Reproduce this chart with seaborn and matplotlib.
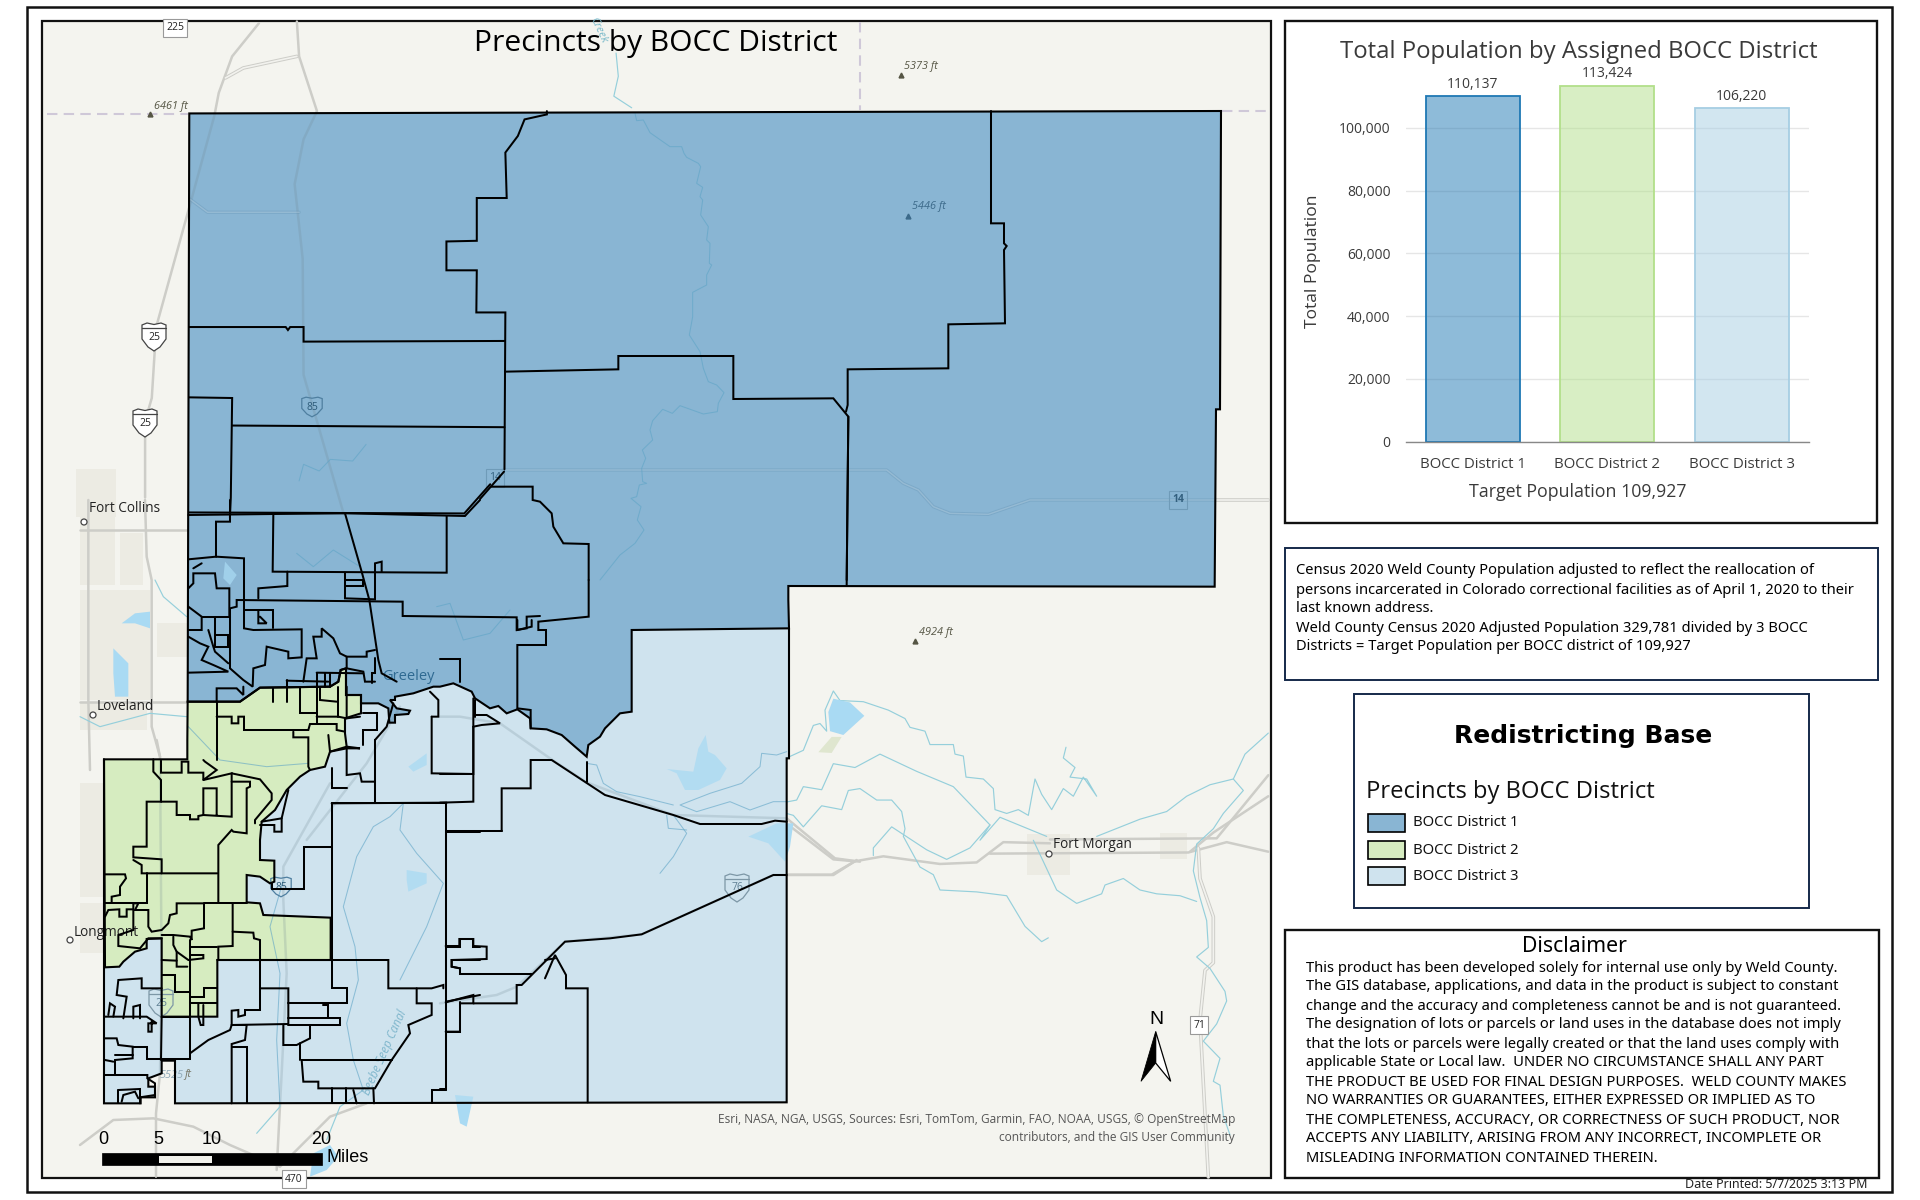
import matplotlib
matplotlib.use("Agg")
import matplotlib.pyplot as plt
from matplotlib.colors import to_rgba
from matplotlib.patches import Polygon, Rectangle, Circle
import seaborn as sns

sns.set_theme(style="white")

# bar chart data
districts = ["BOCC District 1", "BOCC District 2", "BOCC District 3"]
populations = [110137, 113424, 106220]
bar_colors = ["#1f78b4", "#b2df8a", "#a6cee3"]
y_ticks = [0, 20000, 40000, 60000, 80000, 100000]

# map fills
D1_FILL = "#89b5d3"
D2_FILL = "#d6ecc0"
D3_FILL = "#cfe3ee"
MAP_BG = "#f4f4ef"
ROAD = "#cdcdc8"
RIVER = "#95cfdb"
LAKE = "#a9daf3"

census_lines = [
    "Census 2020 Weld County Population adjusted to reflect the reallocation of",
    "persons incarcerated in Colorado correctional facilities as of April 1, 2020 to their",
    "last known address.",
    "Weld County Census 2020 Adjusted Population 329,781 divided by 3 BOCC",
    "Districts = Target Population per BOCC district of 109,927",
]
disclaimer_lines = [
    "This product has been developed solely for internal use only by Weld County.",
    "The GIS database, applications, and data in the product is subject to constant",
    "change and the accuracy and completeness cannot be and is not guaranteed.",
    "The designation of lots or parcels or land uses in the database does not imply",
    "that the lots or parcels were legally created or that the land uses comply with",
    "applicable State or Local law.  UNDER NO CIRCUMSTANCE SHALL ANY PART",
    "THE PRODUCT BE USED FOR FINAL DESIGN PURPOSES.  WELD COUNTY MAKES",
    "NO WARRANTIES OR GUARANTEES, EITHER EXPRESSED OR IMPLIED AS TO",
    "THE COMPLETENESS, ACCURACY, OR CORRECTNESS OF SUCH PRODUCT, NOR",
    "ACCEPTS ANY LIABILITY, ARISING FROM ANY INCORRECT, INCOMPLETE OR",
    "MISLEADING INFORMATION CONTAINED THEREIN.",
]


def z3(p): return [(x / 3 + 80, y / 3 + 500) for x, y in p]
def z4(p): return [(x / 3 + 80, y / 3 + 740) for x, y in p]
def z5(p): return [(x / 2.24, y / 3.015) for x, y in p]
def z6(p): return [(x / 3 + 480, y / 3 + 100) for x, y in p]
def z7(p): return [(x / 3 + 780, y / 3 + 100) for x, y in p]
def z8(p): return [(x / 3 + 440, y / 3 + 620) for x, y in p]
def z9(p): return [(x / 3 + 780, y / 2.613 + 580) for x, y in p]


d1_outline = (
    z5([(424, 342)])
    + z7([(1323, 33), (1320, 928), (1308, 928), (1304, 1460), (25, 1458), (25, 1500)])
    + z8([(1047, 25), (575, 30), (575, 275), (540, 280), (495, 325), (480, 350), (445, 375), (440, 410),
          (405, 380), (365, 345), (320, 328), (272, 325), (270, 295), (232, 268), (200, 280), (175, 258),
          (150, 265), (105, 235), (95, 215), (40, 190), (0, 200)])
    + z3([(1060, 560), (1000, 580), (945, 590), (945, 600), (930, 600), (950, 625), (990, 632), (985, 642),
          (945, 645), (945, 668), (928, 668), (925, 625), (895, 610), (843, 610), (843, 585), (798, 585),
          (798, 505), (782, 510), (775, 545), (750, 560), (540, 563), (480, 605), (323, 605)])
)
d2_outline = (
    z3([(323, 605), (480, 605), (540, 563), (750, 560), (775, 545), (782, 510), (798, 505), (798, 585),
        (843, 585), (843, 640), (795, 655), (795, 700), (800, 740), (840, 745), (800, 745), (750, 755),
        (735, 800), (690, 810), (660, 830), (620, 870), (585, 930), (545, 965), (540, 1020)])
    + z4([(540, 360), (583, 362), (583, 425), (570, 430), (540, 410), (500, 405), (500, 487), (540, 490),
          (550, 525), (752, 533), (752, 660), (412, 660), (412, 830), (245, 830), (245, 595), (200, 597),
          (200, 625), (165, 635), (130, 665), (118, 680), (75, 682), (72, 58), (322, 58), (322, 0)])
)
d3_edge = (
    z4([(72, 58), (72, 1090), (182, 1090), (182, 1072), (225, 1072), (225, 1040), (205, 1040), (205, 1015),
        (245, 1000), (245, 962), (285, 962), (285, 1090)])
    + z8([(1040, 1447), (1040, 415), (1047, 415), (1047, 25)])
)
# rest of the fill is hidden under the other two districts
d3_outline = d3_edge + z8([(575, 30), (200, 100), (0, 150)]) + z4([(330, 100)])

lines_z3 = [
    [(325, 45), (580, 42), (800, 40), (1155, 48), (1200, 0)],
    [(450, 0), (450, 65), (408, 65), (408, 170), (325, 178)],
    [(408, 170), (492, 175), (492, 385), (520, 390), (665, 388), (665, 472), (625, 475), (625, 455), (560, 440),
     (555, 495), (520, 505), (518, 560), (490, 540), (450, 505), (450, 325), (470, 320), (470, 300), (968, 305),
     (968, 348), (1310, 352), (1310, 390), (1340, 385), (1340, 350), (1380, 348)],
    [(580, 42), (578, 215), (1100, 218), (1100, 48)],
    [(795, 40), (845, 215), (868, 300), (895, 480), (905, 520), (950, 545)],
    [(622, 215), (622, 258), (535, 265), (535, 295)],
    [(795, 218), (795, 295), (885, 298), (885, 190), (905, 185), (905, 215)],
    [(795, 240), (850, 240), (850, 258), (795, 258)],
    [(325, 320), (365, 350), (365, 390), (325, 390)],
    [(365, 350), (450, 350)],
    [(405, 350), (405, 440), (445, 440), (445, 405), (405, 405)],
    [(325, 410), (360, 430), (385, 440), (365, 480), (400, 495), (445, 515), (325, 518)],
    [(385, 390), (400, 440), (405, 455), (445, 490)],
    [(325, 265), (340, 250), (340, 220), (405, 220), (410, 265), (448, 265), (448, 350)],
    [(340, 205), (365, 190)],
    [(410, 605), (410, 565), (470, 565), (490, 585), (490, 560)],
    [(495, 330), (578, 330), (578, 385)],
    [(535, 330), (535, 370), (560, 370), (540, 350)],
    [(670, 545), (680, 475), (710, 475), (700, 410), (725, 410), (725, 385), (760, 415), (780, 460), (800, 470),
     (860, 470), (860, 455), (885, 450)],
    [(885, 475), (885, 520), (875, 520), (875, 550)],
    [(800, 470), (800, 505), (850, 515), (855, 545), (885, 545)],
    [(620, 540), (620, 605)],
    [(620, 542), (745, 545)],
    [(710, 518), (850, 520)],
    [(710, 518), (710, 670)],
    [(735, 518), (735, 560)],
    [(750, 518), (750, 560)],
    [(580, 565), (580, 605)],
    [(660, 565), (660, 640), (710, 640)],
    [(720, 565), (720, 600), (770, 605)],
    [(775, 560), (775, 650)],
    [(800, 560), (800, 655), (840, 650)],
    [(410, 650), (455, 650), (455, 670), (475, 670), (475, 650), (492, 650), (492, 690), (685, 690), (690, 672),
     (770, 672), (770, 690), (795, 695)],
    [(710, 650), (775, 650), (800, 655)],
    [(640, 695), (640, 712), (685, 712), (685, 800), (690, 810)],
    [(745, 705), (750, 755), (800, 740)],
    [(410, 605), (410, 780)],
    [(885, 720), (885, 905)],
    [(755, 910), (1100, 908)],
    [(885, 845), (845, 845), (840, 820), (800, 825), (800, 745)],
    [(800, 865), (755, 865), (755, 805)],
    [(1055, 650), (1055, 820), (1180, 822), (1180, 680)],
    [(1055, 650), (1075, 650), (1075, 600), (1050, 575)],
    [(1185, 600), (1185, 650)],
    [(850, 640), (890, 640), (890, 690), (850, 690), (850, 735)],
    [(940, 610), (920, 680), (885, 720)],
]
lines_z4 = [
    [(220, 58), (220, 95), (243, 120), (243, 185), (200, 185), (200, 320), (160, 320), (160, 352), (245, 358), (245, 400)],
    [(243, 62), (243, 98), (305, 98), (305, 65), (325, 65), (325, 98), (370, 98), (370, 120), (410, 90), (375, 65), (370, 60)],
    [(370, 120), (455, 100), (455, 230), (370, 225), (370, 145), (410, 145), (410, 225)],
    [(243, 185), (290, 185), (290, 225), (330, 225), (330, 238), (355, 238), (355, 228), (370, 225)],
    [(455, 100), (540, 118), (575, 160), (575, 180), (525, 240), (525, 250)],
    [(455, 125), (510, 125), (510, 140), (500, 145), (500, 280), (460, 275), (455, 270), (415, 315), (415, 485)],
    [(160, 360), (185, 375), (185, 400), (412, 400)],
    [(200, 400), (200, 490), (75, 490)],
    [(75, 403), (135, 403), (138, 415), (120, 440), (120, 465), (95, 470), (95, 488)],
    [(160, 490), (160, 570), (115, 585), (115, 618), (180, 625), (205, 595), (245, 595)],
    [(160, 490), (175, 490), (165, 510), (205, 510), (205, 560), (215, 575), (245, 570), (265, 550), (270, 525), (290, 520),
     (290, 490), (372, 490), (372, 565), (335, 572), (335, 600), (330, 590), (280, 585), (245, 585)],
    [(75, 530), (85, 510), (118, 508), (118, 530), (140, 530), (140, 508), (160, 508)],
    [(372, 490), (500, 490)],
    [(458, 490), (458, 618), (415, 620), (415, 660)],
    [(458, 575), (520, 578), (522, 595), (540, 600), (540, 810), (495, 810), (495, 825), (475, 830), (475, 810), (455, 812), (455, 855)],
    [(330, 600), (330, 830)],
    [(280, 590), (280, 615), (290, 635), (290, 680), (322, 680)],
    [(290, 635), (325, 660), (370, 655), (370, 645), (330, 645)],
    [(245, 660), (290, 662)],
    [(245, 705), (285, 705), (285, 755), (330, 755)],
    [(330, 620), (412, 620)],
    [(330, 770), (372, 770), (372, 745), (412, 745)],
    [(330, 790), (412, 790)],
    [(355, 790), (355, 830), (362, 855), (370, 855), (370, 795)],
    [(75, 830), (200, 830), (230, 850), (205, 850), (205, 875), (215, 875), (215, 845)],
    [(100, 830), (105, 800), (90, 790), (85, 825)],
    [(245, 745), (205, 745), (185, 745), (185, 715), (115, 720), (110, 765), (140, 770), (130, 835)],
    [(160, 835), (160, 800), (180, 795), (180, 835)],
    [(75, 895), (110, 895), (115, 915), (158, 920), (158, 955), (105, 960), (105, 1005)],
    [(245, 830), (243, 960)],
    [(75, 960), (100, 965)],
    [(158, 920), (202, 920), (202, 958), (243, 958)],
    [(105, 945), (158, 945)],
    [(75, 1005), (202, 1005), (202, 1015), (225, 1030), (225, 1065), (180, 1072)],
    [(115, 1050), (180, 1047), (180, 1090)],
    [(115, 1050), (115, 1090)],
    [(125, 1085), (130, 1065), (165, 1055), (175, 1075)],
    [(245, 830), (330, 830), (330, 958), (245, 958)],
    [(330, 940), (385, 900), (450, 870), (455, 855), (625, 852), (625, 745), (540, 745)],
    [(625, 790), (800, 790), (800, 745), (755, 745), (755, 190)],
    [(625, 835), (780, 835), (780, 855), (625, 855)],
    [(730, 795), (745, 795), (745, 830)],
    [(755, 320), (672, 320), (672, 447), (575, 447), (575, 428)],
    [(625, 150), (605, 235), (605, 275), (583, 275), (583, 255), (540, 255)],
    [(605, 235), (545, 245)],
    [(885, 0), (885, 185)],
    [(755, 190), (1098, 190), (1098, 1050)],
    [(1098, 275), (1200, 275)],
    [(1098, 620), (1140, 620), (1140, 597), (1180, 597), (1180, 620), (1200, 620)],
    [(1200, 660), (1115, 660), (1115, 680), (1140, 685), (1140, 702), (1200, 702)],
    [(1098, 785), (1200, 765)],
    [(1140, 785), (1140, 875), (1098, 875)],
    [(412, 660), (925, 660), (925, 745), (1055, 745), (1090, 735), (1090, 745)],
    [(1010, 745), (1010, 790), (1055, 790), (1055, 825), (985, 855), (990, 880), (935, 960), (885, 1045), (715, 1045),
     (715, 1025), (670, 1025), (665, 960), (935, 960)],
    [(660, 960), (660, 910), (690, 895), (690, 855)],
    [(610, 855), (610, 915), (650, 915), (660, 910)],
    [(455, 855), (500, 855), (495, 900), (455, 912), (455, 1090)],
    [(455, 920), (500, 920), (500, 1090)],
    [(755, 1045), (755, 1090)],
    [(798, 1045), (798, 1090)],
    [(820, 1050), (830, 1090)],
    [(880, 1045), (882, 1090)],
    [(1098, 1050), (1055, 1050), (1055, 1090)],
]
lines_z5 = [
    [(424, 986), (640, 986), (645, 995), (650, 986), (680, 986), (680, 1030), (1130, 1028)],
    [(1225, 335), (1225, 345), (1175, 360), (1160, 410), (1132, 460), (1135, 597), (1068, 597), (1068, 726), (1000, 728),
     (1000, 815), (1068, 815), (1067, 942), (1132, 942), (1130, 1415)],
    [(424, 1198), (520, 1200), (517, 1500), (515, 1560)],
    [(520, 1283), (1130, 1288)],
    [(424, 1545), (1040, 1548), (1098, 1460)],
]
lines_z6 = [
    [(0, 1197), (72, 1115)],
    [(32, 1160), (158, 1160), (158, 1200), (180, 1205), (215, 1240), (220, 1280), (250, 1330), (326, 1332), (326, 1440)],
    [(75, 815), (415, 808), (415, 768), (760, 768), (760, 897), (1060, 895), (1105, 950), (1100, 1440)],
]
lines_z7 = [
    [(633, 33), (633, 370), (672, 370), (672, 430), (680, 438), (672, 450), (675, 670), (505, 673), (505, 805), (203, 808),
     (203, 915), (198, 935)],
    [(205, 950), (200, 1455)],
]
lines_z8 = [
    [(446, -120), (446, -10), (295, 5), (295, 30), (318, 30), (318, 75), (232, 75), (232, 265), (272, 270), (272, 325)],
    [(232, 0), (232, 30), (275, 20), (275, 0)],
    [(0, 118), (60, 118), (60, 185)],
    [(100, 235), (100, 545), (0, 548)],
    [(100, 320), (125, 315), (180, 310), (140, 285), (105, 285)],
    [(0, 463), (100, 463)],
    [(185, 633), (185, 505), (272, 505), (272, 420), (335, 420), (495, 525), (700, 585), (780, 612), (965, 612), (1005, 602),
     (1040, 605)],
    [(185, 633), (17, 633), (17, 1407), (0, 1407)],
    [(17, 1147), (100, 1125), (100, 1150), (60, 1150), (60, 1235), (17, 1235)],
    [(100, 1150), (230, 1150), (230, 1095), (245, 1095), (375, 965), (510, 955), (605, 943), (1000, 765), (1040, 765)],
    [(275, 1062), (60, 1062), (60, 1045), (35, 1040), (35, 1020), (140, 1017), (140, 980), (100, 978), (100, 957), (58, 957),
     (58, 978), (17, 978)],
    [(315, 1075), (345, 1005), (378, 1065), (378, 1105), (443, 1105), (443, 1447)],
    [(315, 1020), (345, 1015)],
    [(440, 425), (440, 487)],
]

# basemap
road_lines = (
    z5([(665, 65), (670, 170), (710, 335), (680, 420), (660, 555), (678, 780), (680, 1130), (770, 1550)]),
    z5([(580, 70), (520, 170), (490, 280), (480, 350), (425, 620), (350, 985), (340, 1200), (325, 1270), (325, 1500)]),
    z3([(195, 0), (200, 170), (215, 240), (215, 680), (240, 770)]),
    z4([(230, 0), (240, 50), (245, 700), (240, 1000), (228, 1120), (228, 1310)]),
    z3([(25, 0), (25, 600), (30, 810)]),
    z3([(0, 605), (320, 605)]),
    z3([(0, 90), (320, 90)]),
    z3([(960, 620), (860, 790), (680, 1020)]),
    z4([(750, 130), (610, 380), (610, 480), (620, 700), (605, 1000), (590, 1290)]),
    z8([(0, 290), (60, 290), (180, 310), (330, 415), (440, 487), (700, 585), (1040, 595), (1185, 715), (1260, 725)]),
    z8([(0, 1150), (170, 1125), (230, 1100), (375, 965), (605, 943), (1000, 765), (1180, 765), (1250, 720)]),
    z9([(25, 640), (160, 730), (225, 735), (310, 722), (480, 742), (590, 738), (670, 685), (810, 688)]),
    z9([(25, 770), (155, 770), (225, 735)]),
    z9([(630, 715), (1225, 712), (1340, 685), (1465, 710)]),
    z9([(810, 678), (1310, 675), (1465, 510)]),
    z9([(1230, 710), (1300, 660), (1465, 565)]),
    z4([(0, 1215), (100, 1140), (220, 1135), (340, 1160), (450, 1215), (600, 1280), (750, 1130), (860, 1090)]),
)
white_roads = (
    z5([(505, 235), (545, 205), (665, 170)]),
    z5([(425, 600), (465, 640), (670, 640)]),
    z7([(-831, 1110), (320, 1110), (370, 1150), (415, 1170), (460, 1220), (510, 1240), (625, 1243), (750, 1200), (1465, 1200)]),
    z9([(1255, 700), (1260, 780), (1300, 880), (1300, 1000), (1275, 1020), (1260, 1150), (1285, 1560)]),
)
river_lines = (
    z6([(465, 40), (470, 62), (490, 60), (510, 98), (570, 140), (605, 140), (612, 160), (620, 172), (655, 190), (662, 200),
        (650, 250), (668, 262), (660, 290), (668, 300), (662, 345), (685, 380), (680, 420), (690, 430), (688, 490), (695, 495),
        (680, 525), (680, 555), (638, 577), (638, 650), (628, 705), (660, 755), (670, 805), (685, 845), (710, 855), (732, 878),
        (715, 910), (712, 935), (670, 942), (600, 917), (577, 940), (548, 928), (518, 962), (510, 990), (518, 1020), (487, 1050),
        (497, 1075), (485, 1105), (488, 1145), (500, 1150), (478, 1155), (470, 1190), (453, 1195), (483, 1220), (472, 1260),
        (492, 1290), (465, 1330), (420, 1365), (360, 1440)]),
    z9([(20, 465), (70, 445), (100, 380), (120, 375), (140, 395), (135, 340), (160, 290), (180, 315), (250, 318), (325, 340),
        (375, 362), (390, 385), (435, 395), (450, 430), (520, 430), (525, 455), (550, 460), (558, 515), (610, 520), (640, 545),
        (645, 600), (680, 610), (715, 600), (745, 615), (765, 520), (785, 560), (815, 600), (850, 545), (880, 565), (910, 515),
        (950, 565), (920, 520), (870, 515), (885, 490), (850, 465), (858, 437)]),
    z9([(20, 580), (50, 575), (70, 540), (125, 548), (160, 480), (225, 490), (300, 455), (410, 500), (520, 540), (630, 640),
        (600, 680), (660, 620), (800, 670)]),
    z9([(20, 610), (40, 615), (70, 645), (125, 590), (185, 600), (205, 550), (240, 545), (290, 575), (335, 575), (365, 605),
        (375, 650), (370, 670), (420, 750), (460, 770), (480, 810), (590, 815), (680, 825), (735, 905), (785, 945), (805, 935)]),
    z9([(280, 720), (280, 700), (335, 645), (440, 705), (500, 730), (570, 700), (630, 640)]),
    z9([(760, 680), (830, 810), (890, 845), (965, 820), (975, 797), (1030, 780), (1080, 810), (1130, 820), (1200, 825), (1250, 840)]),
    z9([(950, 670), (1080, 625), (1160, 605), (1220, 565), (1290, 535), (1360, 520), (1395, 455), (1465, 400)]),
    z9([(1360, 520), (1390, 550), (1330, 610), (1300, 650), (1250, 690), (1240, 760), (1260, 830), (1280, 890), (1285, 960),
        (1250, 985), (1290, 1015), (1335, 1075), (1340, 1100), (1310, 1160), (1270, 1205), (1320, 1250), (1300, 1310), (1320, 1320),
        (1330, 1400), (1350, 1450)]),
    z8([(1040, 545), (1000, 545), (930, 570), (870, 545), (770, 575), (720, 555), (810, 520), (905, 490), (960, 440), (965, 400),
        (1010, 405), (1040, 395)]),
    z8([(700, 555), (600, 530), (530, 515), (490, 490), (470, 435), (440, 430)]),
    z8([(700, 585), (740, 640), (700, 710), (660, 760)]),
    z8([(680, 585), (685, 625), (740, 630)]),
    z3([(225, 240), (250, 290), (320, 350)]),
    z3([(0, 650), (60, 680), (210, 640), (320, 650)]),
    z3([(650, 160), (700, 200), (760, 150), (840, 200)]),
    z3([(1070, 320), (1110, 310), (1150, 420), (1230, 400), (1290, 330)]),
    z3([(325, 680), (420, 780), (560, 800), (685, 790)]),
    z4([(970, 190), (930, 230), (880, 260), (830, 350), (790, 500), (825, 620), (835, 720), (800, 850), (820, 960), (850, 1050),
        (780, 1100), (740, 1200)]),
    z4([(970, 190), (960, 270), (1010, 340), (1090, 430), (1040, 560), (960, 720)]),
    z4([(610, 420), (570, 560), (600, 700), (590, 900), (600, 1100), (530, 1180)]),
    z5([(820, 1340), (790, 1390), (740, 1385), (715, 1420), (680, 1400), (670, 1450)]),
    z5([(1380, 160), (1385, 230), (1375, 290), (1415, 325)]),
)
lake_shapes = (
    z3([(125, 370), (165, 340), (210, 335), (210, 385), (165, 370)]),
    z3([(100, 445), (145, 490), (145, 590), (105, 590), (100, 520)]),
    z3([(435, 185), (470, 225), (450, 255), (430, 235)]),
    z3([(985, 800), (1040, 760), (1040, 795), (1000, 815)]),
    z8([(680, 447), (760, 455), (775, 385), (797, 345), (805, 395), (825, 405), (860, 445), (840, 480), (775, 510), (735, 510), (710, 460)]),
    z8([(925, 650), (1010, 610), (1060, 610), (1050, 680), (1035, 725), (985, 670)]),
    z4([(980, 390), (1040, 400), (1040, 430), (985, 455), (980, 420)]),
    z4([(1125, 1065), (1180, 1070), (1160, 1160), (1140, 1150)]),
    z4([(700, 1240), (750, 1215), (775, 1250), (740, 1290), (690, 1310)]),
    z9([(145, 345), (160, 310), (210, 320), (253, 355), (190, 405), (150, 395)]),
)
urban_shapes = (
    z3([(0, 0), (105, 0), (105, 255), (0, 255)]),
    z3([(120, 100), (190, 100), (190, 255), (120, 255)]),
    z3([(0, 270), (210, 270), (210, 600), (0, 600)]),
    z3([(230, 370), (320, 370), (320, 470), (230, 470)]),
    z3([(0, 610), (200, 610), (200, 690), (0, 690)]),
    z4([(0, 130), (70, 130), (70, 470), (0, 470)]),
    z4([(0, 490), (72, 490), (72, 640), (0, 640)]),
    z5([(170, 1415), (260, 1415), (260, 1560), (170, 1560)]),
    z9([(740, 665), (870, 665), (870, 770), (740, 770)]),
    z9([(1140, 660), (1220, 660), (1220, 730), (1140, 730)]),
)
farm_patches = (
    z9([(115, 450), (155, 410), (185, 410), (155, 452)]),
)
cities = ["Fort Collins", "Loveland", "Longmont", "Fort Morgan"]
city_label_xy = [(89, 509), (97, 706), (74, 932), (1053, 844)]
city_marker_xy = [(84, 522), (93, 715), (70, 940), (1049, 854)]
elevations = ["6461 ft", "5373 ft", "5446 ft", "4924 ft"]
elevation_label_xy = [(154, 106), (904, 66), (912, 207), (919, 632)]
elevation_marker_xy = [(150, 114), (901, 75), (908, 216), (915, 641)]
box_shields = ["225", "14", "14", "71", "470"]
box_shield_xy = [(175, 28), (495, 478), (1178, 500), (1199, 1025), (294, 1179)]
interstates = ["25", "25", "25", "76"]
interstate_xy = [(154, 337), (145, 423), (161, 1003), (737, 888)]
us_routes = ["85", "85"]
us_route_xy = [(312, 407), (281, 887)]
scale_ticks = ["0", "5", "10", "20"]
scale_tick_x = [103, 158, 212, 321]

# shield outline around its own centre, px
SHIELD = [(-12, -12), (-7, -14), (0, -12.5), (7, -14), (12, -12), (12, 2), (6, 10), (0, 14), (-6, 10), (-12, 2)]

UI = "Open Sans"
TAHOMA = "Noto Sans"

fig = plt.figure(figsize=(19.2, 12), dpi=100, facecolor="white")
ax = fig.add_axes([0, 0, 1, 1])
ax.set_xlim(0, 1920)
ax.set_ylim(1200, 0)
ax.axis("off")

# frames
ax.add_patch(Rectangle((27, 7), 1865, 1185, fc="none", ec="#111111", lw=1.8, zorder=1))
map_frame = Rectangle((42, 21), 1229, 1157, fc=MAP_BG, ec="#111111", lw=1.6, zorder=2)
ax.add_patch(map_frame)


def outline(pts, **kw):
    p = Polygon(pts, closed=True, **kw)
    ax.add_patch(p)
    p.set_clip_path(map_frame)
    return p


for u in urban_shapes:
    outline(u, fc="#ecebe3", ec="none", zorder=3)
for u in farm_patches:
    outline(u, fc="#dfe6cf", ec="none", zorder=3)

# basemap under the fills
for r in road_lines:
    ax.plot(*zip(*r), color=ROAD, lw=1.8, zorder=3.2, clip_path=map_frame)
for r in white_roads:
    ax.plot(*zip(*r), color=ROAD, lw=2.6, zorder=3.2, clip_path=map_frame)
    ax.plot(*zip(*r), color="#f2f2ee", lw=1.2, zorder=3.3, clip_path=map_frame)
for r in river_lines:
    ax.plot(*zip(*r), color=RIVER, lw=0.85, zorder=3.4, clip_path=map_frame)
for l in lake_shapes:
    outline(l, fc=LAKE, ec="none", zorder=3.5)

fill_d3 = outline(d3_outline, fc=D3_FILL, ec="none", zorder=4)
fill_d2 = outline(d2_outline, fc=D2_FILL, ec="none", zorder=5)
fill_d1 = outline(d1_outline, fc=D1_FILL, ec="none", zorder=6)

# same details again, faint and clipped to each district, so they show through the fills
for fill, z in [(fill_d3, 4.5), (fill_d2, 5.5), (fill_d1, 6.5)]:
    for r in road_lines:
        ax.plot(*zip(*r), color="#6f8791", lw=1.8, alpha=0.22, zorder=z, clip_path=fill)
    for r in white_roads:
        ax.plot(*zip(*r), color="#5f8fb0", lw=2.4, alpha=0.3, zorder=z, clip_path=fill)
        ax.plot(*zip(*r), color="#c6dcea", lw=1, alpha=0.35, zorder=z, clip_path=fill)
    for r in river_lines:
        ax.plot(*zip(*r), color="#5ea4c6", lw=0.75, alpha=0.6, zorder=z, clip_path=fill)
    for l in lake_shapes:
        lake = Polygon(l, closed=True, fc=LAKE, ec="none", alpha=0.75, zorder=z)
        ax.add_patch(lake)
        lake.set_clip_path(fill)
ax.plot([47, 188], [113.5, 113.5], color="#cfc8d8", lw=1.5, ls=(0, (5, 3)), zorder=3.2)
ax.plot([1222, 1270], [111, 111], color="#cfc8d8", lw=1.5, ls=(0, (5, 3)), zorder=3.2)
ax.plot([860, 860], [22, 110], color="#cfc8d8", lw=1.5, ls=(0, (5, 3)), zorder=3.2)

# precinct lines
for group, conv in [(lines_z3, z3), (lines_z4, z4), (lines_z5, z5), (lines_z6, z6), (lines_z7, z7), (lines_z8, z8)]:
    for ln in group:
        ax.plot(*zip(*conv(ln)), color="black", lw=1.45, zorder=9, clip_path=map_frame, solid_joinstyle="miter")
outline(d1_outline, fc="none", ec="black", lw=1.5, zorder=9, joinstyle="miter")
outline(d2_outline, fc="none", ec="black", lw=1.5, zorder=9, joinstyle="miter")
ax.plot(*zip(*d3_edge), color="black", lw=1.5, zorder=9, clip_path=map_frame, solid_joinstyle="miter")

# map labels
for name, (x, y), (mx, my) in zip(cities, city_label_xy, city_marker_xy):
    ax.text(x, y, name, family=UI, fontsize=9.8, color="#222222", ha="left", va="center", zorder=8)
    ax.add_patch(Circle((mx, my), 3, fc="white", ec="#444444", lw=0.9, zorder=8))
ax.text(382, 676, "Greeley", family=UI, fontsize=10.5, color="#2f6a92", ha="left", va="center", zorder=8)
for name, (x, y), (mx, my) in zip(elevations, elevation_label_xy, elevation_marker_xy):
    c = "#3c6a8a" if name == "5446 ft" else "#555544"
    ax.text(x, y, name, family=UI, fontsize=7.8, style="italic", color=c, ha="left", va="center", zorder=8)
    ax.plot([mx], [my], marker="^", ms=3.5, color=c, zorder=8)
ax.text(172, 1075, "5525", family=UI, fontsize=7.8, style="italic", color="#8fa9b8", ha="center", va="center", zorder=8)
ax.text(184, 1075, "ft", family=UI, fontsize=7.8, style="italic", color="#777766", ha="left", va="center", zorder=8)
ax.text(598, 30, "Creek", family=UI, fontsize=8, style="italic", color="#79b9c9", rotation=-65, ha="center", va="center",
        zorder=8, clip_path=map_frame)
ax.text(385, 1053, "Beebe Seep Canal", family=UI, fontsize=8.5, style="italic", color="#7fb6cc", rotation=66, ha="center",
        va="center", zorder=8)
for name, (x, y) in zip(box_shields, box_shield_xy):
    tinted = name == "14"
    faded = tinted and x < 1000
    ax.text(x, y, name, family=UI, fontsize=7.5, color="#33607f" if tinted else "#222222", ha="center", va="center",
            zorder=8, fontweight="bold" if tinted and not faded else "normal",
            bbox=dict(boxstyle="square,pad=0.3", fc="none" if tinted else "white",
                      ec="#6f9bb8" if tinted else "#999999", lw=0.8),
            clip_path=map_frame)
for name, (x, y) in zip(interstates, interstate_xy):
    tinted = y > 800
    ax.add_patch(Polygon([(x + dx, y + dy) for dx, dy in SHIELD], fc="none" if tinted else "white",
                         ec="#7d97a6" if tinted else "#444444", lw=0.9, zorder=8))
    ax.plot([x - 12, x + 12], [y - 9, y - 9], color="#7d97a6" if tinted else "#444444", lw=0.9, zorder=8)
    ax.text(x, y, name, family=UI, fontsize=7.5, color="#5f7f93" if tinted else "#222222", ha="center", va="center", zorder=8)
for name, (x, y) in zip(us_routes, us_route_xy):
    ax.add_patch(Polygon([(x + dx * 0.85, y + dy * 0.7) for dx, dy in SHIELD], fc="none", ec="#4f7fa0", lw=0.9, zorder=8))
    ax.text(x, y, name, family=UI, fontsize=7.5, color="#2c5a78", ha="center", va="center", zorder=8)

ax.text(656, 43, "Precincts by BOCC District", family=UI, fontsize=21.6, color="black", ha="center", va="center", zorder=10)
ax.text(1235, 1120, "Esri, NASA, NGA, USGS, Sources: Esri, TomTom, Garmin, FAO, NOAA, USGS, © OpenStreetMap", family=UI,
        fontsize=8.6, color="#555555", ha="right", va="center", zorder=10)
ax.text(1235, 1137, "contributors, and the GIS User Community", family=UI, fontsize=8.6, color="#555555", ha="right",
        va="center", zorder=10)

# scale bar
ax.add_patch(Rectangle((102, 1153), 220, 12, fc="black", ec="black", lw=0.5, zorder=10))
ax.add_patch(Rectangle((159, 1155.5), 52.5, 7, fc="#f0f0ea", ec="none", zorder=11))
for t, x in zip(scale_ticks, scale_tick_x):
    ax.text(x, 1139, t, family="Liberation Sans", fontsize=13, color="black", ha="center", va="center", zorder=10)
ax.text(327, 1158, "Miles", family="Liberation Sans", fontsize=13, color="black", ha="left", va="center", zorder=10)

# north arrow
ax.text(1156, 1019, "N", family="Liberation Sans", fontsize=14, color="black", ha="center", va="center", zorder=10)
ax.add_patch(Polygon(z9([(1127, 1180), (1083, 1310), (1127, 1262)]), fc="black", ec="black", lw=0.6, zorder=10))
ax.add_patch(Polygon(z9([(1127, 1180), (1172, 1310), (1127, 1262)]), fc="white", ec="black", lw=0.9, zorder=10))

# side boxes
ax.add_patch(Rectangle((1285, 21), 592, 502, fc="white", ec="#111111", lw=1.7, zorder=1))
ax.add_patch(Rectangle((1285, 548), 593, 132, fc="white", ec="#15294a", lw=1.4, zorder=1))
ax.add_patch(Rectangle((1354, 694), 455, 214, fc="white", ec="#15294a", lw=1.4, zorder=1))
ax.add_patch(Rectangle((1285, 930), 594, 248, fc="white", ec="#111111", lw=1.7, zorder=1))

for i, line in enumerate(census_lines):
    ax.text(1296, 571 + i * 19, line, family=TAHOMA, fontsize=10.6, color="black", ha="left", va="center")

ax.text(1583, 736, "Redistricting Base", family="DejaVu Sans", fontsize=18, fontweight="bold", color="black", ha="center", va="center")
ax.text(1366, 792, "Precincts by BOCC District", family=UI, fontsize=17.1, color="#111111", ha="left", va="center")
for name, fill, y in zip(districts, [D1_FILL, D2_FILL, D3_FILL], [823, 850, 876]):
    ax.add_patch(Rectangle((1367.5, y - 9), 37.5, 18, fc=fill, ec="black", lw=1.2))
    ax.text(1413, y, name, family=TAHOMA, fontsize=10.7, color="#111111", ha="left", va="center")

ax.text(1574, 946, "Disclaimer", family=TAHOMA, fontsize=15.3, color="black", ha="center", va="center")
for i, line in enumerate(disclaimer_lines):
    ax.text(1306.5, 968 + i * 19, line, family=TAHOMA, fontsize=10.6, color="black", ha="left", va="center")
ax.text(1867.5, 1185, "Date Printed: 5/7/2025 3:13 PM", family=TAHOMA, fontsize=9, color="#222222", ha="right", va="center")

# bar chart
ax_bar = fig.add_axes([1405.7 / 1920, 1 - 441.7 / 1200, 403 / 1920, 361 / 1200], facecolor="none")
df_bars = {"district": districts, "population": populations}
sns.barplot(data=df_bars, x="district", y="population", hue="district", palette=bar_colors, width=0.7,
            saturation=1, dodge=False, legend=False, ax=ax_bar)
for bar, c in zip(ax_bar.patches, bar_colors):
    bar.set_facecolor(to_rgba(c, 0.5))
    bar.set_edgecolor(c)
    bar.set_linewidth(1.3)
ax_bar.set_xlim(-0.5, 2.5)
ax_bar.set_ylim(0, 115000)
ax_bar.set_yticks(y_ticks)
ax_bar.set_yticklabels([f"{v:,}" for v in y_ticks], family=UI, fontsize=10, color="#3a3a3a")
ax_bar.set_xticks(range(3))
ax_bar.set_xticklabels(districts, family=UI, fontsize=10.8, color="#3a3a3a")
ax_bar.tick_params(axis="y", length=0, pad=11)
ax_bar.tick_params(axis="x", length=4, width=0.8, color="#888888", pad=7)
ax_bar.grid(axis="y", color="#e6e6e6", lw=1)
ax_bar.set_axisbelow(True)
sns.despine(ax=ax_bar, left=True)
ax_bar.spines["bottom"].set_color("#888888")
ax_bar.spines["bottom"].set_linewidth(1)
for v, bar in zip(populations, ax_bar.patches):
    ax_bar.annotate(f"{v:,}", (bar.get_x() + bar.get_width() / 2, v), xytext=(0, 3), textcoords="offset points",
                    ha="center", va="bottom", family=UI, fontsize=10, color="#3a3a3a")
ax_bar.set_xlabel("Target Population 109,927", family=UI, fontsize=12.8, color="#3a3a3a", x=0.4275, labelpad=8)
ax_bar.set_ylabel("Total Population", family=UI, fontsize=12.6, color="#3a3a3a", y=0.5, labelpad=13)
ax.text(1579, 52, "Total Population by Assigned BOCC District", family=UI, fontsize=17.2, color="#3a3a3a", ha="center", va="center")

plt.savefig("out.png", dpi=100)
